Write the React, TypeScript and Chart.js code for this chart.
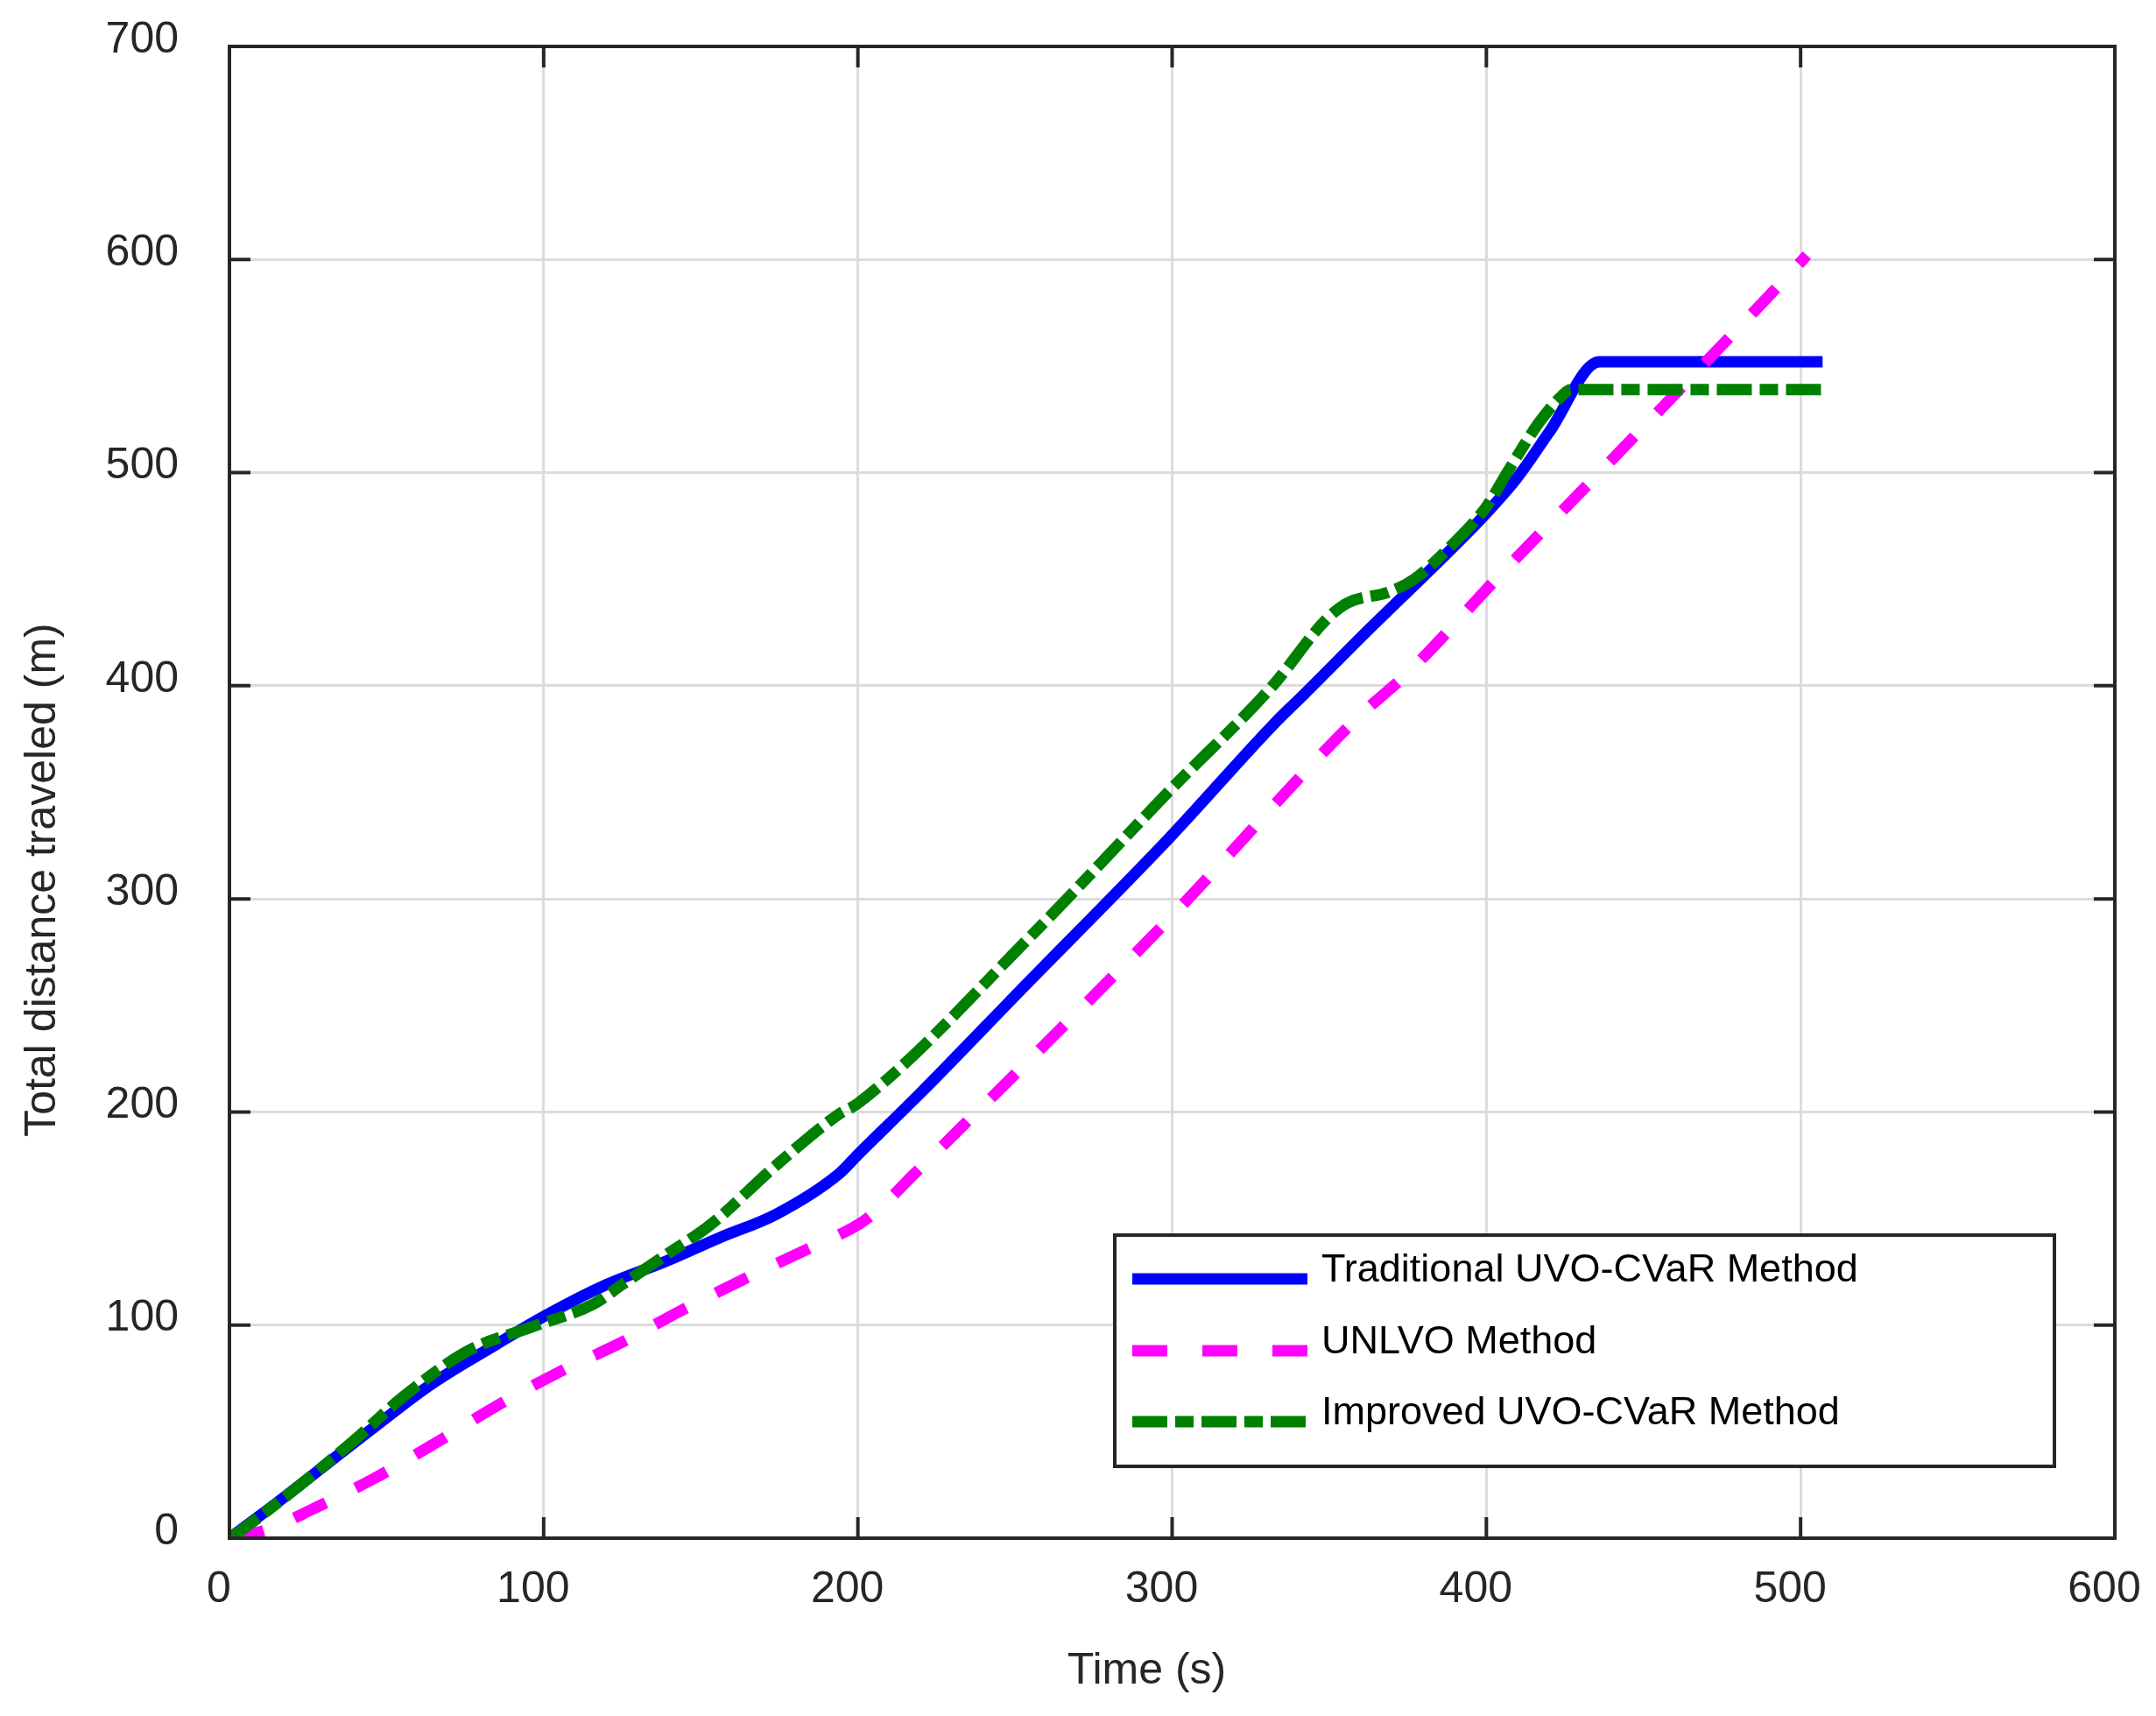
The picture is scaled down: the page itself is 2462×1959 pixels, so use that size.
import React, { useEffect, useRef } from "react";
import { Chart, registerables } from "chart.js";

Chart.register(...registerables);

// ---- data ----
const traditionalTime = [0, 11, 46, 64, 85, 100, 120, 139, 156, 174, 194, 200, 220, 251, 300, 333, 342, 363, 386, 400, 410, 420, 436, 507];
const traditionalDist = [0, 12, 52, 72, 91, 104, 119, 130, 141, 152, 171, 180, 209, 256, 330, 383, 396, 427, 460, 481, 498, 519, 552, 552];

const unlvoTime = [0, 12, 27, 46, 66, 85, 105, 125, 144, 163, 183, 201, 207, 218, 298, 359, 375, 405, 436, 466, 497, 502];
const unlvoDist = [0, 4, 14, 28, 45, 62, 78, 92, 107, 121, 135, 148, 155, 171, 289, 385, 406, 453, 500, 546, 594, 602];

const improvedTime = [0, 5, 39, 55, 76, 96, 116, 125, 139, 153, 174, 194, 200, 256, 300, 332, 349, 356, 369, 377, 389, 400, 407, 417, 424, 427, 507];
const improvedDist = [0, 5, 45, 66, 88, 99, 110, 119, 133, 147, 175, 199, 204, 284, 352, 400, 431, 439, 444, 450, 466, 484, 501, 524, 536, 539, 539];

const seriesLabels = ["Traditional UVO-CVaR Method", "UNLVO Method", "Improved UVO-CVaR Method"];
const seriesColors = ["#0000ff", "#ff00ff", "#008000"];
const seriesDashes: number[][] = [[], [40, 38], [40, 9, 21, 9]];

const xTitle = "Time (s)";
const yTitle = "Total distance traveled (m)";
const xMin = 0, xMax = 600, xStep = 100;
const yMin = 0, yMax = 700, yStep = 100;

const FONT = '"Liberation Sans", Arial, Helvetica, sans-serif';
const AXIS_COLOR = "#262626";

const toPoints = (xs: number[], ys: number[]) => xs.map((x, i) => ({ x, y: ys[i] }));

const framePlugin = {
  id: "matlabFrame",
  afterDatasetsDraw(chart: any) {
    const { ctx, chartArea: a, scales } = chart;
    ctx.save();
    // box
    ctx.strokeStyle = AXIS_COLOR;
    ctx.lineWidth = 4;
    ctx.strokeRect(a.left, a.top, a.right - a.left, a.bottom - a.top);
    // inward ticks on all sides
    const tl = 24;
    ctx.beginPath();
    scales.x.ticks.forEach((t: any) => {
      const px = scales.x.getPixelForValue(t.value);
      ctx.moveTo(px, a.bottom);
      ctx.lineTo(px, a.bottom - tl);
      ctx.moveTo(px, a.top);
      ctx.lineTo(px, a.top + tl);
    });
    scales.y.ticks.forEach((t: any) => {
      const py = scales.y.getPixelForValue(t.value);
      ctx.moveTo(a.left, py);
      ctx.lineTo(a.left + tl, py);
      ctx.moveTo(a.right, py);
      ctx.lineTo(a.right - tl, py);
    });
    ctx.stroke();

    // legend
    const boxW = 1073, boxH = 264;
    const bx = a.right - 69 - boxW;
    const by = a.bottom - 82 - boxH;
    ctx.fillStyle = "#ffffff";
    ctx.fillRect(bx, by, boxW, boxH);
    ctx.lineWidth = 4;
    ctx.strokeStyle = AXIS_COLOR;
    ctx.strokeRect(bx, by, boxW, boxH);
    const rows = [50, 132, 213];
    ctx.font = `45px ${FONT}`;
    ctx.textAlign = "left";
    ctx.textBaseline = "alphabetic";
    seriesLabels.forEach((lab, i) => {
      const ly = by + rows[i];
      ctx.beginPath();
      ctx.strokeStyle = seriesColors[i];
      ctx.lineWidth = 13;
      ctx.lineCap = "butt";
      ctx.setLineDash(i === 1 ? [40, 40] : seriesDashes[i]);
      ctx.moveTo(bx + 20, ly);
      ctx.lineTo(bx + 220, ly);
      ctx.stroke();
      ctx.setLineDash([]);
      ctx.fillStyle = "#000000";
      ctx.fillText(lab, bx + 236, ly + 3);
    });
    ctx.restore();
  },
  afterDraw(chart: any) {
    const { ctx, chartArea: a } = chart;
    ctx.save();
    ctx.fillStyle = AXIS_COLOR;
    ctx.font = `50px ${FONT}`;
    ctx.textAlign = "center";
    ctx.textBaseline = "alphabetic";
    ctx.fillText(xTitle, (a.left + a.right) / 2 - 29, a.bottom + 166);
    ctx.translate(a.left - 199, (a.top + a.bottom) / 2 + 100);
    ctx.rotate(-Math.PI / 2);
    ctx.fillText(yTitle, 0, 0);
    ctx.restore();
  },
};

const zeroPad = (s: any) => {
  s.paddingTop = 0;
  s.paddingBottom = 0;
  s.paddingLeft = 0;
  s.paddingRight = 0;
};

export default function App() {
  const ref = useRef<HTMLCanvasElement | null>(null);
  useEffect(() => {
    if (!ref.current) return;
    const datasets = [
      { data: toPoints(traditionalTime, traditionalDist) },
      { data: toPoints(unlvoTime, unlvoDist) },
      { data: toPoints(improvedTime, improvedDist) },
    ].map((d, i) => ({
      label: seriesLabels[i],
      data: d.data,
      borderColor: seriesColors[i],
      backgroundColor: seriesColors[i],
      borderWidth: 13,
      borderDash: seriesDashes[i],
      borderCapStyle: "butt" as const,
      borderJoinStyle: "round" as const,
      pointRadius: 0,
      fill: false,
      cubicInterpolationMode: "monotone" as const,
      order: 3 - i,
    }));
    const chart = new Chart(ref.current, {
      type: "line",
      data: { datasets },
      options: {
        animation: false,
        responsive: false,
        devicePixelRatio: 1,
        layout: { padding: { top: 53, right: 47, left: 0, bottom: 0 } },
        plugins: { legend: { display: false }, tooltip: { enabled: false } },
        scales: {
          x: {
            type: "linear",
            min: xMin,
            max: xMax,
            ticks: {
              stepSize: xStep,
              color: AXIS_COLOR,
              font: { size: 50, family: FONT },
              padding: 29,
              labelOffset: -12,
              maxRotation: 0,
            },
            grid: { color: "#dcdcdc", lineWidth: 3, drawTicks: false },
            border: { display: false },
            afterFit: (s: any) => { s.height = 203; zeroPad(s); },
          },
          y: {
            type: "linear",
            min: yMin,
            max: yMax,
            ticks: {
              stepSize: yStep,
              color: AXIS_COLOR,
              font: { size: 50, family: FONT },
              padding: 58,
              labelOffset: -7,
            },
            grid: { color: "#dcdcdc", lineWidth: 3, drawTicks: false },
            border: { display: false },
            afterFit: (s: any) => { s.width = 262; zeroPad(s); },
          },
        },
      },
      plugins: [framePlugin],
    });
    return () => chart.destroy();
  }, []);
  return (
    <div style={{ position: "absolute", left: 0, top: 0, width: 2462, height: 1959, background: "#fff" }}>
      <canvas ref={ref} width={2462} height={1959} style={{ width: 2462, height: 1959, display: "block" }} />
    </div>
  );
}
